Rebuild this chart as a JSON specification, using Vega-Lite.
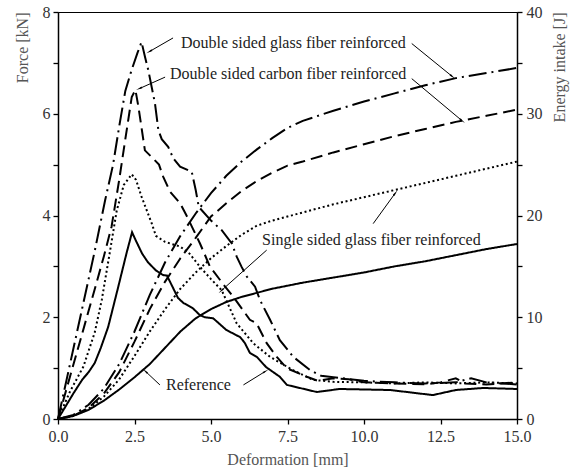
{
  "$schema": "https://vega.github.io/schema/vega-lite/v6.json",
  "width": 459,
  "height": 407,
  "autosize": {"type": "none"},
  "padding": {"left": 58, "top": 12, "right": 59, "bottom": 52},
  "background": "white",
  "config": {
    "view": {"stroke": "black", "strokeWidth": 1},
    "axis": {"grid": false, "domainColor": "black", "domainWidth": 1.5, "tickColor": "black", "tickWidth": 1.3, "tickSize": 5,
      "labelFont": "Liberation Serif", "labelFontSize": 16, "labelColor": "#333", "titleFont": "Liberation Serif", "titleFontSize": 16,
      "titleFontWeight": "normal", "titleColor": "#555", "labelFlush": false, "labelOverlap": false}
  },
  "datasets": {
    "force": [
      {"series":"Reference","d":0,"force":0},{"series":"Reference","d":0.2,"force":0.2},{"series":"Reference","d":0.5,"force":0.5},{"series":"Reference","d":0.8,"force":0.78},{"series":"Reference","d":1.0,"force":0.92},{"series":"Reference","d":1.2,"force":1.1},{"series":"Reference","d":1.4,"force":1.4},{"series":"Reference","d":1.64,"force":1.81},{"series":"Reference","d":1.97,"force":2.6},{"series":"Reference","d":2.24,"force":3.26},{"series":"Reference","d":2.42,"force":3.67},{"series":"Reference","d":2.55,"force":3.5},{"series":"Reference","d":2.75,"force":3.25},{"series":"Reference","d":2.94,"force":3.08},{"series":"Reference","d":3.2,"force":2.92},{"series":"Reference","d":3.43,"force":2.83},{"series":"Reference","d":3.56,"force":2.82},{"series":"Reference","d":3.7,"force":2.65},{"series":"Reference","d":3.92,"force":2.38},{"series":"Reference","d":4.1,"force":2.28},{"series":"Reference","d":4.4,"force":2.18},{"series":"Reference","d":4.64,"force":2.04},{"series":"Reference","d":4.8,"force":2.0},{"series":"Reference","d":5.07,"force":1.98},{"series":"Reference","d":5.5,"force":1.75},{"series":"Reference","d":5.95,"force":1.61},{"series":"Reference","d":6.1,"force":1.5},{"series":"Reference","d":6.27,"force":1.3},{"series":"Reference","d":6.5,"force":1.22},{"series":"Reference","d":6.8,"force":1.02},{"series":"Reference","d":7.25,"force":0.83},{"series":"Reference","d":7.48,"force":0.67},{"series":"Reference","d":7.9,"force":0.61},{"series":"Reference","d":8.46,"force":0.53},{"series":"Reference","d":9.2,"force":0.59},{"series":"Reference","d":10.85,"force":0.57},{"series":"Reference","d":12.25,"force":0.47},{"series":"Reference","d":13.0,"force":0.57},{"series":"Reference","d":13.9,"force":0.61},{"series":"Reference","d":15,"force":0.59},
      {"series":"Single glass","d":0,"force":0},{"series":"Single glass","d":0.4,"force":0.55},{"series":"Single glass","d":0.83,"force":1.03},{"series":"Single glass","d":1.2,"force":1.7},{"series":"Single glass","d":1.43,"force":2.34},{"series":"Single glass","d":1.7,"force":3.3},{"series":"Single glass","d":1.92,"force":4.1},{"series":"Single glass","d":2.15,"force":4.6},{"series":"Single glass","d":2.41,"force":4.81},{"series":"Single glass","d":2.55,"force":4.7},{"series":"Single glass","d":2.73,"force":4.37},{"series":"Single glass","d":3.06,"force":3.85},{"series":"Single glass","d":3.2,"force":3.6},{"series":"Single glass","d":3.5,"force":3.48},{"series":"Single glass","d":3.99,"force":3.39},{"series":"Single glass","d":4.3,"force":3.25},{"series":"Single glass","d":4.64,"force":2.99},{"series":"Single glass","d":5.0,"force":2.75},{"series":"Single glass","d":5.35,"force":2.53},{"series":"Single glass","d":5.84,"force":1.88},{"series":"Single glass","d":6.38,"force":1.49},{"series":"Single glass","d":6.93,"force":1.22},{"series":"Single glass","d":7.68,"force":0.96},{"series":"Single glass","d":8.33,"force":0.77},{"series":"Single glass","d":9,"force":0.73},{"series":"Single glass","d":10,"force":0.72},{"series":"Single glass","d":11,"force":0.7},{"series":"Single glass","d":12,"force":0.72},{"series":"Single glass","d":13,"force":0.7},{"series":"Single glass","d":14,"force":0.72},{"series":"Single glass","d":15,"force":0.7},
      {"series":"Double carbon","d":0,"force":0},{"series":"Double carbon","d":0.4,"force":0.85},{"series":"Double carbon","d":0.8,"force":1.7},{"series":"Double carbon","d":1.2,"force":2.55},{"series":"Double carbon","d":1.5,"force":3.2},{"series":"Double carbon","d":1.75,"force":3.78},{"series":"Double carbon","d":2.0,"force":4.7},{"series":"Double carbon","d":2.2,"force":5.5},{"series":"Double carbon","d":2.41,"force":6.33},{"series":"Double carbon","d":2.53,"force":6.47},{"series":"Double carbon","d":2.63,"force":6.13},{"series":"Double carbon","d":2.84,"force":5.28},{"series":"Double carbon","d":3.11,"force":5.12},{"series":"Double carbon","d":3.3,"force":5.0},{"series":"Double carbon","d":3.44,"force":4.76},{"series":"Double carbon","d":3.66,"force":4.47},{"series":"Double carbon","d":3.99,"force":4.24},{"series":"Double carbon","d":4.2,"force":4.0},{"series":"Double carbon","d":4.64,"force":3.45},{"series":"Double carbon","d":4.97,"force":2.99},{"series":"Double carbon","d":5.4,"force":2.65},{"series":"Double carbon","d":5.73,"force":2.4},{"series":"Double carbon","d":6.27,"force":1.95},{"series":"Double carbon","d":6.49,"force":1.88},{"series":"Double carbon","d":6.82,"force":1.49},{"series":"Double carbon","d":7.15,"force":1.22},{"series":"Double carbon","d":7.47,"force":1.0},{"series":"Double carbon","d":8.13,"force":0.83},{"series":"Double carbon","d":8.5,"force":0.75},{"series":"Double carbon","d":9,"force":0.8},{"series":"Double carbon","d":9.5,"force":0.78},{"series":"Double carbon","d":10,"force":0.72},{"series":"Double carbon","d":11,"force":0.7},{"series":"Double carbon","d":12,"force":0.68},{"series":"Double carbon","d":12.5,"force":0.72},{"series":"Double carbon","d":13,"force":0.8},{"series":"Double carbon","d":13.3,"force":0.7},{"series":"Double carbon","d":14,"force":0.68},{"series":"Double carbon","d":15,"force":0.72},
      {"series":"Double glass","d":0,"force":0},{"series":"Double glass","d":0.4,"force":1.1},{"series":"Double glass","d":0.8,"force":2.2},{"series":"Double glass","d":1.2,"force":3.3},{"series":"Double glass","d":1.54,"force":4.3},{"series":"Double glass","d":1.8,"force":5.0},{"series":"Double glass","d":2.0,"force":5.75},{"series":"Double glass","d":2.2,"force":6.45},{"series":"Double glass","d":2.4,"force":6.85},{"series":"Double glass","d":2.6,"force":7.2},{"series":"Double glass","d":2.73,"force":7.41},{"series":"Double glass","d":2.85,"force":7.1},{"series":"Double glass","d":2.95,"force":6.86},{"series":"Double glass","d":3.17,"force":6.2},{"series":"Double glass","d":3.28,"force":5.68},{"series":"Double glass","d":3.39,"force":5.5},{"series":"Double glass","d":3.6,"force":5.35},{"series":"Double glass","d":3.77,"force":5.12},{"series":"Double glass","d":3.99,"force":4.96},{"series":"Double glass","d":4.37,"force":4.86},{"series":"Double glass","d":4.5,"force":4.5},{"series":"Double glass","d":4.6,"force":4.17},{"series":"Double glass","d":5.0,"force":3.9},{"series":"Double glass","d":5.35,"force":3.71},{"series":"Double glass","d":5.68,"force":3.45},{"series":"Double glass","d":5.84,"force":3.19},{"series":"Double glass","d":6.0,"force":2.99},{"series":"Double glass","d":6.17,"force":2.8},{"series":"Double glass","d":6.44,"force":2.6},{"series":"Double glass","d":6.6,"force":2.34},{"series":"Double glass","d":6.93,"force":1.95},{"series":"Double glass","d":7.25,"force":1.55},{"series":"Double glass","d":7.69,"force":1.22},{"series":"Double glass","d":8.24,"force":0.96},{"series":"Double glass","d":8.6,"force":0.85},{"series":"Double glass","d":9,"force":0.82},{"series":"Double glass","d":9.3,"force":0.8},{"series":"Double glass","d":10,"force":0.75},{"series":"Double glass","d":11,"force":0.72},{"series":"Double glass","d":12,"force":0.7},{"series":"Double glass","d":13,"force":0.72},{"series":"Double glass","d":13.5,"force":0.8},{"series":"Double glass","d":14,"force":0.72},{"series":"Double glass","d":15,"force":0.68}
    ],
    "energy": [
      {"series":"Reference","d":0,"energy":0},{"series":"Reference","d":0.5,"energy":0.3},{"series":"Reference","d":1,"energy":0.9},{"series":"Reference","d":1.5,"energy":1.8},{"series":"Reference","d":2,"energy":2.9},{"series":"Reference","d":2.5,"energy":4.1},{"series":"Reference","d":3,"energy":5.4},{"series":"Reference","d":3.5,"energy":7.0},{"series":"Reference","d":4,"energy":8.6},{"series":"Reference","d":4.5,"energy":9.9},{"series":"Reference","d":5,"energy":10.8},{"series":"Reference","d":5.5,"energy":11.5},{"series":"Reference","d":6,"energy":12.0},{"series":"Reference","d":6.5,"energy":12.4},{"series":"Reference","d":7,"energy":12.8},{"series":"Reference","d":7.5,"energy":13.1},{"series":"Reference","d":8,"energy":13.4},{"series":"Reference","d":9,"energy":13.9},{"series":"Reference","d":10,"energy":14.4},{"series":"Reference","d":11,"energy":15.0},{"series":"Reference","d":12,"energy":15.5},{"series":"Reference","d":13,"energy":16.1},{"series":"Reference","d":14,"energy":16.7},{"series":"Reference","d":15,"energy":17.2},
      {"series":"Single glass","d":0,"energy":0},{"series":"Single glass","d":0.5,"energy":0.3},{"series":"Single glass","d":1,"energy":1.0},{"series":"Single glass","d":1.5,"energy":2.2},{"series":"Single glass","d":2,"energy":3.9},{"series":"Single glass","d":2.5,"energy":6.2},{"series":"Single glass","d":3,"energy":8.6},{"series":"Single glass","d":3.5,"energy":10.8},{"series":"Single glass","d":4,"energy":12.8},{"series":"Single glass","d":4.5,"energy":14.4},{"series":"Single glass","d":5,"energy":15.8},{"series":"Single glass","d":5.5,"energy":17.0},{"series":"Single glass","d":6,"energy":18.1},{"series":"Single glass","d":6.5,"energy":19.0},{"series":"Single glass","d":7,"energy":19.5},{"series":"Single glass","d":7.5,"energy":19.9},{"series":"Single glass","d":8,"energy":20.3},{"series":"Single glass","d":9,"energy":21.1},{"series":"Single glass","d":10,"energy":21.8},{"series":"Single glass","d":11,"energy":22.5},{"series":"Single glass","d":12,"energy":23.2},{"series":"Single glass","d":13,"energy":23.9},{"series":"Single glass","d":14,"energy":24.6},{"series":"Single glass","d":15,"energy":25.3},
      {"series":"Double carbon","d":0,"energy":0},{"series":"Double carbon","d":0.5,"energy":0.3},{"series":"Double carbon","d":1,"energy":1.1},{"series":"Double carbon","d":1.5,"energy":2.5},{"series":"Double carbon","d":2,"energy":4.6},{"series":"Double carbon","d":2.5,"energy":7.6},{"series":"Double carbon","d":3,"energy":10.8},{"series":"Double carbon","d":3.5,"energy":13.5},{"series":"Double carbon","d":4,"energy":15.8},{"series":"Double carbon","d":4.5,"energy":17.8},{"series":"Double carbon","d":5,"energy":19.9},{"series":"Double carbon","d":5.5,"energy":21.2},{"series":"Double carbon","d":6,"energy":22.4},{"series":"Double carbon","d":6.5,"energy":23.4},{"series":"Double carbon","d":7,"energy":24.2},{"series":"Double carbon","d":7.5,"energy":24.9},{"series":"Double carbon","d":8,"energy":25.3},{"series":"Double carbon","d":9,"energy":26.2},{"series":"Double carbon","d":10,"energy":27.0},{"series":"Double carbon","d":11,"energy":27.8},{"series":"Double carbon","d":12,"energy":28.5},{"series":"Double carbon","d":13,"energy":29.2},{"series":"Double carbon","d":14,"energy":29.8},{"series":"Double carbon","d":15,"energy":30.4},
      {"series":"Double glass","d":0,"energy":0},{"series":"Double glass","d":0.5,"energy":0.4},{"series":"Double glass","d":1,"energy":1.4},{"series":"Double glass","d":1.5,"energy":3.0},{"series":"Double glass","d":2,"energy":5.4},{"series":"Double glass","d":2.5,"energy":8.6},{"series":"Double glass","d":3,"energy":12.2},{"series":"Double glass","d":3.5,"energy":15.4},{"series":"Double glass","d":4,"energy":18.0},{"series":"Double glass","d":4.5,"energy":20.2},{"series":"Double glass","d":5,"energy":22.2},{"series":"Double glass","d":5.5,"energy":23.9},{"series":"Double glass","d":6,"energy":25.3},{"series":"Double glass","d":6.5,"energy":26.5},{"series":"Double glass","d":7,"energy":27.6},{"series":"Double glass","d":7.5,"energy":28.6},{"series":"Double glass","d":8,"energy":29.3},{"series":"Double glass","d":9,"energy":30.3},{"series":"Double glass","d":10,"energy":31.2},{"series":"Double glass","d":11,"energy":32.0},{"series":"Double glass","d":12,"energy":32.8},{"series":"Double glass","d":13,"energy":33.5},{"series":"Double glass","d":14,"energy":34.0},{"series":"Double glass","d":15,"energy":34.5}
    ],
    "arrows": [
      {"x":3.76,"y":7.49,"x2":3.01,"y2":7.23,"dir":240},
      {"x":3.5,"y":6.72,"x2":2.68,"y2":6.5,"dir":246},
      {"x":11.56,"y":7.38,"x2":12.87,"y2":6.74,"dir":129},
      {"x":11.56,"y":6.69,"x2":13.19,"y2":5.87,"dir":130},
      {"x":10.3,"y":3.84,"x2":11.01,"y2":4.43,"dir":36},
      {"x":6.82,"y":3.32,"x2":5.35,"y2":2.53,"dir":228},
      {"x":3.33,"y":0.67,"x2":2.87,"y2":0.93,"dir":313},
      {"x":6.06,"y":0.67,"x2":6.76,"y2":0.93,"dir":58}
    ],
    "labels": [
      {"label":"Double sided glass fiber reinforced","x":4.02,"y":7.39},
      {"label":"Double sided carbon fiber reinforced","x":3.66,"y":6.78},
      {"label":"Single sided glass fiber reinforced","x":6.67,"y":3.52},
      {"label":"Reference","x":3.53,"y":0.67}
    ]
  },
  "layer": [
    {
      "layer": [
        {
          "data": {"name": "force"},
          "mark": {"type": "line", "strokeWidth": 2, "color": "black"},
          "encoding": {
            "x": {"field": "d", "type": "quantitative", "title": "Deformation [mm]", "scale": {"domain": [0, 15], "nice": false},
              "axis": {"values": [0, 1.25, 2.5, 3.75, 5, 6.25, 7.5, 8.75, 10, 11.25, 12.5, 13.75, 15],
                "labelExpr": "datum.value % 2.5 == 0 ? format(datum.value, '.1f') : ''", "labelPadding": 4, "titlePadding": 7}},
            "y": {"field": "force", "type": "quantitative", "title": "Force [kN]", "scale": {"domain": [0, 8], "nice": false},
              "axis": {"values": [0, 1, 2, 3, 4, 5, 6, 7, 8], "labelExpr": "datum.value % 2 == 0 ? datum.label : ''",
                "titleAnchor": "end", "labelPadding": 3, "titlePadding": 12}},
            "strokeDash": {"field": "series", "type": "nominal", "legend": null,
              "scale": {"domain": ["Reference", "Single glass", "Double carbon", "Double glass"],
                "range": [[1, 0], [2, 2.7], [12, 6], [18, 5, 2, 5]]}}
          }
        },
        {
          "data": {"name": "arrows"},
          "mark": {"type": "rule", "strokeWidth": 1, "color": "black"},
          "encoding": {
            "x": {"field": "x", "type": "quantitative", "title": "Deformation [mm]"},
            "y": {"field": "y", "type": "quantitative", "title": "Force [kN]"},
            "x2": {"field": "x2"},
            "y2": {"field": "y2"}
          }
        },
        {
          "data": {"name": "arrows"},
          "mark": {"type": "point", "shape": "wedge", "filled": true, "color": "black", "size": 55, "opacity": 1},
          "encoding": {
            "x": {"field": "x2", "type": "quantitative", "title": "Deformation [mm]"},
            "y": {"field": "y2", "type": "quantitative", "title": "Force [kN]"},
            "angle": {"field": "dir", "type": "quantitative", "scale": null}
          }
        },
        {
          "data": {"name": "labels"},
          "mark": {"type": "text", "align": "left", "baseline": "middle", "font": "Liberation Serif", "fontSize": 16, "color": "#222"},
          "encoding": {
            "x": {"field": "x", "type": "quantitative", "title": "Deformation [mm]"},
            "y": {"field": "y", "type": "quantitative", "title": "Force [kN]"},
            "text": {"field": "label"}
          }
        }
      ]
    },
    {
      "data": {"name": "energy"},
      "mark": {"type": "line", "strokeWidth": 2, "color": "black"},
      "encoding": {
        "x": {"field": "d", "type": "quantitative", "title": "Deformation [mm]", "scale": {"domain": [0, 15], "nice": false}},
        "y": {"field": "energy", "type": "quantitative", "title": "Energy intake [J]", "scale": {"domain": [0, 40], "nice": false},
          "axis": {"orient": "right", "values": [0, 5, 10, 15, 20, 25, 30, 35, 40], "labelExpr": "datum.value % 10 == 0 ? datum.label : ''",
            "titleAngle": -90, "titleAnchor": "end", "titleAlign": "right", "titleBaseline": "top", "labelPadding": 4, "titlePadding": 9}},
        "strokeDash": {"field": "series", "type": "nominal", "legend": null,
          "scale": {"domain": ["Reference", "Single glass", "Double carbon", "Double glass"],
            "range": [[1, 0], [2, 2.7], [12, 6], [18, 5, 2, 5]]}}
      }
    }
  ],
  "resolve": {"scale": {"y": "independent"}}
}
